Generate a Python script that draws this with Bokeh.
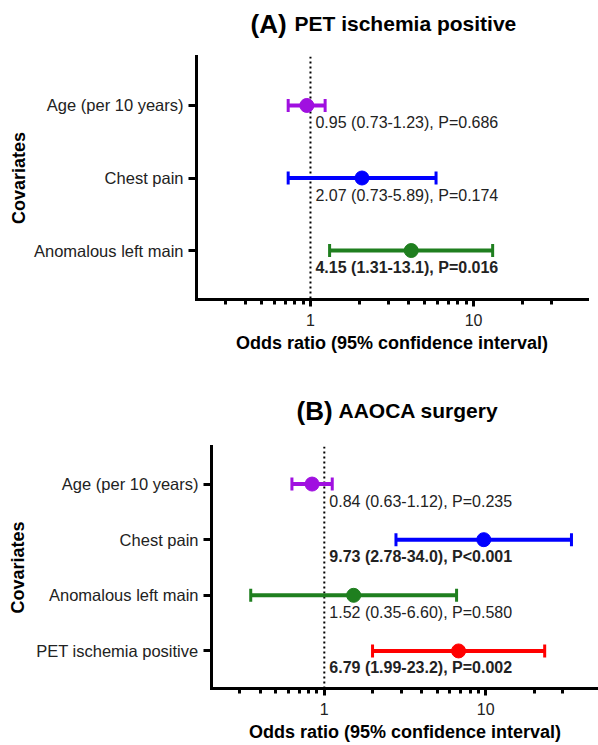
import math
from bokeh.plotting import figure
from bokeh.models import (Range1d, FactorRange, FixedTicker, Span,
                          ColumnDataSource, NumeralTickFormatter)
from bokeh.layouts import column
from bokeh.embed import file_html
from bokeh.resources import INLINE
from bokeh.core.properties import value

FONT = "Liberation Sans"
TXT = "#222222"
W = 598

# ---------------- data ----------------
# Panel A: PET ischemia positive
a_covariates = ["Age (per 10 years)", "Chest pain", "Anomalous left main"]
a_or = ["0.95", "2.07", "4.15"]
a_lo = ["0.73", "0.73", "1.31"]
a_hi = ["1.23", "5.89", "13.1"]
a_p = ["P=0.686", "P=0.174", "P=0.016"]
a_bold = [False, False, True]
a_colors = ["#A010E0", "#0000FF", "#1F7F1F"]

# Panel B: AAOCA surgery
b_covariates = ["Age (per 10 years)", "Chest pain", "Anomalous left main",
                "PET ischemia positive"]
b_or = ["0.84", "9.73", "1.52", "6.79"]
b_lo = ["0.63", "2.78", "0.35", "1.99"]
b_hi = ["1.12", "34.0", "6.60", "23.2"]
b_p = ["P=0.235", "P<0.001", "P=0.580", "P=0.002"]
b_bold = [False, True, False, True]
b_colors = ["#A010E0", "#0000FF", "#1F7F1F", "#FF0000"]

x_major = [1, 10]
x_minor = [0.3, 0.4, 0.5, 0.6, 0.7, 0.8, 0.9,
           2, 3, 4, 5, 6, 7, 8, 9, 20, 30]
x_limits = (0.2, 50)
ref_line = 1


def title_fig(letter, title, height, x_letter, x_title, y_mid):
    t = figure(width=W, height=height, x_range=Range1d(0, W),
               y_range=Range1d(height, 0), output_backend="svg",
               toolbar_location=None, x_axis_location=None,
               y_axis_location=None, min_border=0, frame_align=False)
    t.outline_line_color = None
    t.grid.visible = False
    t.text(x=[x_letter], y=[y_mid], text=[f"({letter})"], text_font=value(FONT),
           text_font_size="26px", text_font_style="bold", text_color="black",
           text_baseline="middle", text_align="left")
    t.text(x=[x_title], y=[y_mid], text=[title], text_font=value(FONT),
           text_font_size="21px", text_font_style="bold", text_color="black",
           text_baseline="middle", text_align="left")
    return t


def panel(covs, ors, los, his, ps, bold, colors,
          height, bl, br, bt, bb, ylab_standoff):
    n = len(covs)
    src = ColumnDataSource(dict(
        cov=covs,
        orv=[float(v) for v in ors],
        lo=[float(v) for v in los],
        hi=[float(v) for v in his],
        color=colors,
        label=[f"{o} ({l}-{h}), {pp}" for o, l, h, pp in zip(ors, los, his, ps)],
        style=["bold" if b else "normal" for b in bold],
        xref=[ref_line] * n,
    ))
    p = figure(width=W, height=height, x_axis_type="log",
               x_range=Range1d(*x_limits),
               y_range=FactorRange(factors=list(reversed(covs)),
                                   range_padding=0.175,
                                   range_padding_units="absolute"),
               output_backend="svg", toolbar_location=None,
               min_border_left=bl, min_border_right=br,
               min_border_top=bt, min_border_bottom=bb, frame_align=False)
    p.outline_line_color = None
    p.xgrid.visible = False
    p.ygrid.visible = False
    p.background_fill_color = "white"
    p.border_fill_color = "white"

    p.add_layout(Span(location=ref_line, dimension="height", line_color="black",
                      line_width=2, line_dash="2 3", level="underlay"))

    p.segment(x0="lo", y0="cov", x1="hi", y1="cov", line_color="color",
              line_width=4, source=src)
    for end in ("lo", "hi"):
        p.scatter(x=end, y="cov", marker="dash", angle=math.pi / 2, size=13,
                  line_color="color", line_width=3, source=src)
    p.scatter(x="orv", y="cov", marker="circle", size=14, fill_color="color",
              line_color="color", source=src)
    p.text(x="xref", y="cov", text="label", text_font=value(FONT),
           text_font_size="16px", text_font_style="style", text_color=TXT,
           text_baseline="middle", text_align="left", x_offset=5, y_offset=17,
           source=src)

    xa = p.xaxis[0]
    xa.ticker = FixedTicker(ticks=x_major, minor_ticks=x_minor)
    xa.formatter = NumeralTickFormatter(format="0")
    xa.axis_label = "Odds ratio (95% confidence interval)"
    ya = p.yaxis[0]
    ya.axis_label = "Covariates"
    for ax in (xa, ya):
        ax.axis_line_width = 3
        ax.axis_line_color = "black"
        ax.axis_line_cap = "square"
        ax.major_tick_line_width = 3
        ax.major_tick_line_color = "black"
        ax.minor_tick_line_width = 3
        ax.minor_tick_line_color = "black"
        ax.major_tick_in = 0
        ax.minor_tick_in = 0
        ax.major_label_text_font = FONT
        ax.major_label_text_font_size = "16px"
        ax.major_label_text_color = TXT
        ax.axis_label_text_font = FONT
        ax.axis_label_text_font_size = "18px"
        ax.axis_label_text_font_style = "bold"
        ax.axis_label_text_color = "black"
    ya.major_label_text_font_size = "16.5px"
    xa.major_tick_out = 7
    xa.minor_tick_out = 5
    xa.major_label_standoff = 7
    xa.axis_label_standoff = 4
    ya.major_tick_out = 8
    ya.minor_tick_out = 0
    ya.major_label_standoff = 5
    ya.axis_label_standoff = ylab_standoff
    return p


ta = title_fig("A", "PET ischemia positive", 44, 250, 294, 23)
pa = panel(a_covariates, a_or, a_lo, a_hi, a_p, a_bold, a_colors,
           height=336, bl=196, br=11, bt=12, bb=81, ylab_standoff=2)
tb = title_fig("B", "AAOCA surgery", 52, 296, 338, 30)
pb = panel(b_covariates, b_or, b_lo, b_hi, b_p, b_bold, b_colors,
           height=312, bl=211, br=0, bt=14, bb=56, ylab_standoff=5)

layout = column(ta, pa, tb, pb, spacing=0)
open("out.html", "w").write(file_html(layout, INLINE))
